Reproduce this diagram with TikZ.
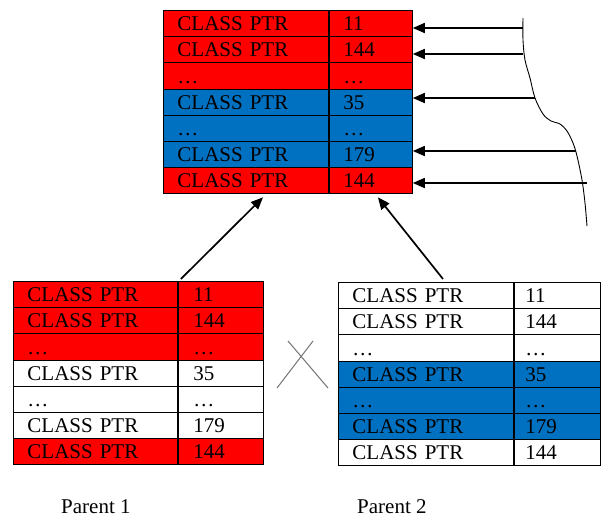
\documentclass[tikz,border=0pt]{standalone}
\usepackage{fontspec}
\setmainfont{Liberation Serif}
\usetikzlibrary{arrows.meta,calc}

\definecolor{genred}{HTML}{FF0000}
\definecolor{genblue}{HTML}{0070C0}

\tikzset{
  txt/.style={font=\fontsize{21}{24}\selectfont, text=black},
  cell/.style={txt, draw=black, line width=0.9pt, anchor=north west,
    inner xsep=0pt, inner ysep=0pt, align=left,
    minimum height=26.2pt, text height=20.2pt, text depth=6pt},
  arr/.style={line width=1.7pt, -{Triangle[length=12pt,width=10pt]}},
  cross/.style={draw=black!55, line width=1pt},
}

% #1 name, #2 x, #3 y, #4 width of pointer column, #5 width of value column,
% #6 value-column inset, #7 rows as colour/pointer/value
\newcommand{\chromtable}[7]{%
  \foreach \fc/\ta/\tb [count=\i] in {#7} {
    \node[cell, fill=\fc, minimum width=#4pt, text width=#4pt]
      (#1-\i-1) at (#2, {#3+(\i-1)*26.2}) {\hspace*{14pt}\ta};
    \node[cell, fill=\fc, minimum width=#5pt, text width=#5pt]
      (#1-\i-2) at (#1-\i-1.north east) {\hspace*{#6pt}\tb};
  }%
}

\begin{document}
\begin{tikzpicture}[x=1pt, y=-1pt]
  \useasboundingbox (0,0) rectangle (608,517);

  % offspring chromosome
  \chromtable{t}{163}{10}{165}{83}{14}{%
    genred/CLASS PTR/11, genred/CLASS PTR/144, genred/…/…,
    genblue/CLASS PTR/35, genblue/…/…, genblue/CLASS PTR/179,
    genred/CLASS PTR/144}

  % parent 1
  \chromtable{pa}{13}{281}{164}{85}{15}{%
    genred/CLASS PTR/11, genred/CLASS PTR/144, genred/…/…,
    white/CLASS PTR/35, white/…/…, white/CLASS PTR/179,
    genred/CLASS PTR/144}

  % parent 2
  \chromtable{pb}{338}{282}{175}{86}{11}{%
    white/CLASS PTR/11, white/CLASS PTR/144, white/…/…,
    genblue/CLASS PTR/35, genblue/…/…, genblue/CLASS PTR/179,
    white/CLASS PTR/144}

  % brace-like curve on the right
  \draw[line width=0.9pt] plot[smooth, tension=0.55] coordinates {
    (523,18) (523,40) (525,60) (530,78) (535,98) (543,114) (551,121)
    (560,124) (567,131) (573,143) (577,156) (582,180) (585,203) (587,226)};

  \coordinate (r1) at (523,28);
  \coordinate (r2) at (523,54);
  \coordinate (r3) at (535,98);
  \coordinate (r4) at (576,151);
  \coordinate (r5) at (587,183);
  \foreach \k in {1,...,5}
    \draw[arr] (r\k) -- (r\k -| t-1-2.east);

  % inheritance arrows
  \draw[arr] ([xshift=3pt, yshift=2pt]pa-1-2.north west)
          -- ([xshift=100pt, yshift=-3pt]t-7-1.south west);
  \draw[arr] ([xshift=105pt, yshift=3pt]pb-1-1.north west)
          -- ([xshift=49pt, yshift=-3pt]t-7-2.south west);

  % crossover mark
  \draw[cross] (288,341) -- (328,388);
  \draw[cross] (313,341) -- (277,388);

  % labels
  \node[txt, anchor=base west, inner sep=0pt] (lab1) at (61,513) {Parent 1};
  \node[txt, anchor=base west, inner sep=0pt] (lab2) at (357,513) {Parent 2};
\end{tikzpicture}
\end{document}
